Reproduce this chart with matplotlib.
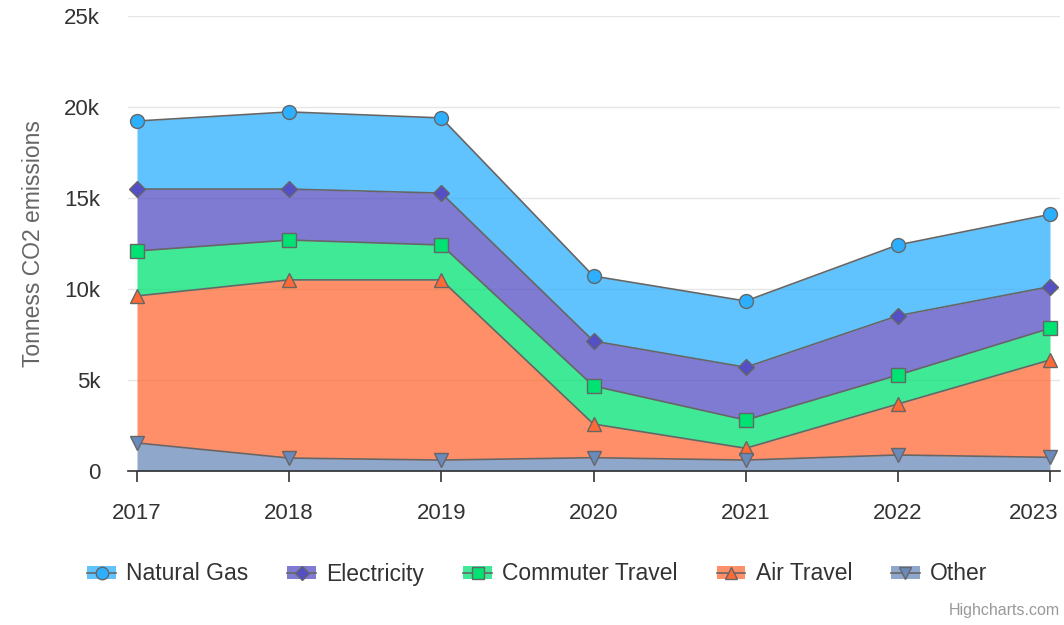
import matplotlib.pyplot as plt
from matplotlib.patches import Patch
from matplotlib.lines import Line2D
from matplotlib.legend_handler import HandlerTuple
from matplotlib.ticker import FuncFormatter
from matplotlib.transforms import ScaledTranslation
import numpy as np

plt.rcParams['font.family'] = ['Liberation Sans', 'DejaVu Sans']

# datos (toneladas CO2)
years = [2017, 2018, 2019, 2020, 2021, 2022, 2023]
other = [1540, 710, 600, 730, 600, 880, 750]
air_travel = [8080, 9790, 9900, 1850, 650, 2800, 5350]
commuter = [2470, 2190, 1920, 2090, 1550, 1590, 1740]
electricity = [3400, 2800, 2850, 2470, 2900, 3260, 2290]
natural_gas = [3740, 4240, 4130, 3570, 3640, 3890, 3970]

names = ['Natural Gas', 'Electricity', 'Commuter Travel', 'Air Travel', 'Other']
series = [natural_gas, electricity, commuter, air_travel, other]
colors = ['#2caffe', '#544fc5', '#00e272', '#fe6a35', '#6b8abc']
markers = ['o', 'D', 's', '^', 'v']
msizes = [10, 8, 9.5, 10, 10]

fig = plt.figure(figsize=(10.64, 6.25), dpi=100)
ax = fig.add_axes([128/1064, 1 - 471/625, (1060-128)/1064, (471-16)/625])

# apilar desde abajo: Other, Air, Commuter, Electricity, Natural Gas
bottom = np.zeros(len(years))
tops = {}
for i in range(len(series) - 1, -1, -1):
    top = bottom + np.array(series[i])
    ax.fill_between(years, bottom, top, color=colors[i], alpha=0.75, lw=0, zorder=2)
    tops[i] = top
    bottom = top

# lineas y marcadores (Other encima)
for i in range(len(series)):
    ax.plot(years, tops[i], color='#666666', lw=1.2, zorder=3 + i,
            marker=markers[i], ms=msizes[i], mfc=colors[i], mec='#666666', mew=1.0)

ax.set_xlim(2017 - 9/152.2, 2023 + 10/152.2)
ax.set_ylim(0, 25000)
ax.set_yticks([0, 5000, 10000, 15000, 20000, 25000])
ax.yaxis.set_major_formatter(FuncFormatter(lambda v, p: '0' if v == 0 else '%dk' % (v/1000)))
ax.set_xticks(years)
ax.grid(axis='y', color='#e6e6e6', lw=1, zorder=0)
ax.set_axisbelow(True)
for s in ['top', 'right', 'left']:
    ax.spines[s].set_visible(False)
ax.spines['bottom'].set_color('#333333')
ax.spines['bottom'].set_linewidth(1.2)
ax.spines['bottom'].set_zorder(20)
ax.tick_params(axis='y', length=0, pad=20, labelsize=16, labelcolor='#333333')
ax.tick_params(axis='x', length=8, width=1.2, color='#333333', pad=15, labelsize=16, labelcolor='#333333')
ax.set_ylabel('Tonness CO2 emissions', fontsize=16.5, color='#666666', labelpad=14)

# ultima etiqueta corrida hacia dentro, como en el original
last = ax.get_xticklabels()[-1]
last.set_ha('right')
last.set_transform(last.get_transform() + ScaledTranslation(8/100, 0, fig.dpi_scale_trans))

handles = []
for i in range(len(series)):
    handles.append((Patch(facecolor=colors[i], alpha=0.75, lw=0),
                    Line2D([], [], color='#666666', lw=1.2, marker=markers[i], ms=msizes[i] * 0.9,
                           mfc=colors[i], mec='#666666')))
fig.legend(handles, names, handler_map={tuple: HandlerTuple(ndivide=1, pad=0)},
           loc='center', bbox_to_anchor=(0.505, 1 - 574/625), ncol=5, frameon=False,
           fontsize=16.5, labelcolor='#333333', handlelength=1.25, handleheight=0.5,
           handletextpad=0.45, columnspacing=1.7)

fig.text(1060/1064, 1 - 611/625, 'Highcharts.com', ha='right', va='center', fontsize=11.5, color='#999999')

fig.savefig('out.png', dpi=100)
